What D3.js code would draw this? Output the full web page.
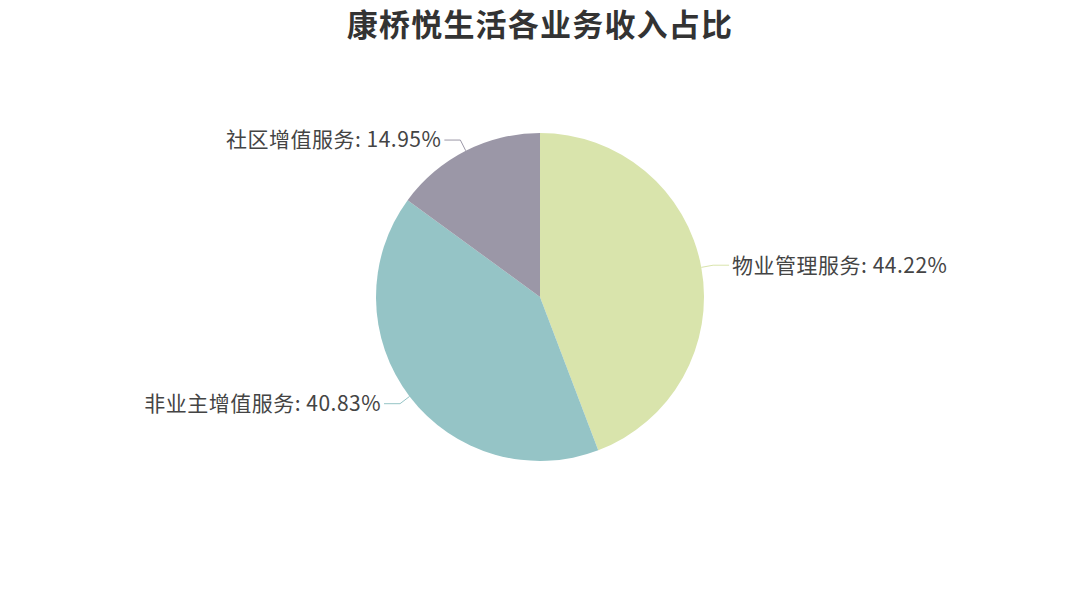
<!DOCTYPE html>
<html>
<head>
<meta charset="utf-8">
<script src="https://cdn.jsdelivr.net/npm/d3@7"></script>
<style>
  body { margin: 0; background: #fff; }
  svg { display: block; font-family: "Noto Sans CJK SC", "Noto Sans", sans-serif; }
</style>
</head>
<body>
<div id="chart"></div>
<script>
const title = '康桥悦生活各业务收入占比';
const categories = ['物业管理服务', '非业主增值服务', '社区增值服务'];
const shares = [44.22, 40.83, 14.95];
const colors = ['#d9e4ac', '#95c4c6', '#9b97a7'];

const width = 1080;
const height = 595;
const cx = 540;
const cy = 297;
const radius = 164;

const svg = d3.select('#chart').append('svg')
    .attr('width', width)
    .attr('height', height);

svg.append('text')
    .attr('x', width / 2)
    .attr('y', 36)
    .attr('text-anchor', 'middle')
    .style('font-size', '31px')
    .style('font-weight', 'bold')
    .style('letter-spacing', '1.2px')
    .style('fill', '#333')
    .text(title);

const data = categories.map((name, i) => ({ name, value: shares[i], color: colors[i] }));

const pie = d3.pie().sort(null).value(d => d.value);
const arc = d3.arc().innerRadius(0).outerRadius(radius);

const group = svg.append('g').attr('transform', `translate(${cx},${cy})`);

const arcs = pie(data);

group.selectAll('path.slice')
    .data(arcs)
    .enter()
    .append('path')
    .attr('class', 'slice')
    .attr('d', arc)
    .attr('fill', d => d.data.color);

// leader lines: radial segment then horizontal segment
const len1 = 12;
const len2 = 16;
const gap = 3;

const points = arcs.map(d => {
    const mid = (d.startAngle + d.endAngle) / 2;
    const sx = Math.sin(mid), sy = -Math.cos(mid);
    const a = [radius * sx, radius * sy];
    const b = [(radius + len1) * sx, (radius + len1) * sy];
    const dir = sx >= 0 ? 1 : -1;
    const c = [b[0] + dir * len2, b[1]];
    return { d, a, b, c, dir };
});

group.selectAll('path.leader')
    .data(points)
    .enter()
    .append('path')
    .attr('class', 'leader')
    .attr('d', p => d3.line()([p.a, p.b, p.c]))
    .attr('fill', 'none')
    .attr('stroke', p => p.d.data.color)
    .attr('stroke-width', 1);

group.selectAll('text.label')
    .data(points)
    .enter()
    .append('text')
    .attr('class', 'label')
    .attr('x', p => p.c[0] + p.dir * gap)
    .attr('y', p => p.c[1])
    .attr('dy', '0.35em')
    .attr('text-anchor', p => (p.dir > 0 ? 'start' : 'end'))
    .style('font-size', '21px')
    .style('letter-spacing', '0.5px')
    .style('fill', '#444')
    .text(p => `${p.d.data.name}: ${p.d.data.value.toFixed(2)}%`);
</script>
</body>
</html>
